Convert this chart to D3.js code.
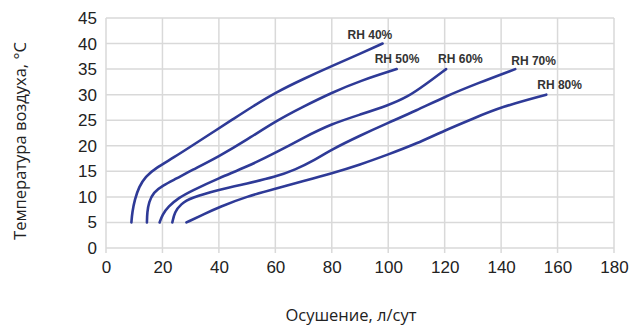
<!DOCTYPE html>
<html>
<head>
<meta charset="utf-8">
<script src="https://cdn.jsdelivr.net/npm/d3@7"></script>
<style>
  body { margin: 0; background: #fff; }
  svg { display: block; }
</style>
</head>
<body>
<div id="chart"></div>
<script>
// Осушение (л/сут) vs температура воздуха (°C) for each relative humidity
const seriesNames = ['RH 40%', 'RH 50%', 'RH 60%', 'RH 70%', 'RH 80%']

const rh40 = [[9, 5], [9.3, 7], [10.2, 9.5], [11.7, 12], [14, 14], [17.5, 15.6], [24, 17.7], [31, 20.2],
  [38, 22.7], [45, 25.2], [52, 27.7], [60, 30.4], [70, 33.1], [80, 35.6], [90, 38], [98, 40]]
const rh50 = [[14.5, 5], [14.6, 7], [15.2, 9], [16.8, 10.9], [20, 12.2], [25, 13.6], [30, 15.1], [40, 17.9],
  [50, 21.2], [60, 24.8], [70, 27.7], [80, 30.4], [90, 32.7], [103, 35]]
const rh60 = [[19, 5], [20, 6.5], [22, 8.1], [26, 9.9], [30, 11.1], [40, 13.7], [50, 15.9], [60, 18.6],
  [70, 21.6], [80, 24.3], [90, 26.1], [100, 27.9], [107, 29.6], [113, 31.9], [120.5, 35]]
const rh70 = [[23.5, 5], [24.3, 7], [26.5, 8.6], [30, 9.8], [40, 11.4], [50, 12.6], [60, 13.9], [67, 15.3],
  [74, 17.2], [80, 19.3], [90, 22], [100, 24.5], [110, 26.9], [120, 29.6], [132, 32.3], [145, 35]]
const rh80 = [[28.5, 5], [35, 6.7], [40, 8], [50, 10.1], [60, 11.6], [70, 13.1], [80, 14.6], [90, 16.3],
  [100, 18.3], [110, 20.4], [120, 23], [130, 25.3], [140, 27.6], [156, 30]]

const xTicks = [0, 20, 40, 60, 80, 100, 120, 140, 160, 180]
const yTicks = [0, 5, 10, 15, 20, 25, 30, 35, 40, 45]

const xTitle = 'Осушение, л/сут'
const yTitle = 'Температура воздуха, °С'

// label placement relative to each curve's last point, in px
const labelOffsets = [[-35, -5], [-22, -6], [-8, -6], [-4, -4], [-9, -6]]

const series = [rh40, rh50, rh60, rh70, rh80]

const width = 631, height = 326
const margin = { top: 18, right: 17, bottom: 78, left: 106 }

const svg = d3.select('#chart').append('svg')
  .attr('width', width)
  .attr('height', height)

const x = d3.scaleLinear().domain([0, 180]).range([margin.left, width - margin.right])
const y = d3.scaleLinear().domain([0, 45]).range([height - margin.bottom, margin.top])

const gridColor = '#d9d9d9'

// gridlines
svg.append('g')
  .selectAll('line')
  .data(yTicks)
  .join('line')
  .attr('x1', x(0)).attr('x2', x(180))
  .attr('y1', (d) => y(d)).attr('y2', (d) => y(d))
  .attr('stroke', gridColor)
  .attr('stroke-width', 1.5)

svg.append('g')
  .selectAll('line')
  .data(xTicks)
  .join('line')
  .attr('x1', (d) => x(d)).attr('x2', (d) => x(d))
  .attr('y1', y(45)).attr('y2', y(0) + 5)
  .attr('stroke', gridColor)
  .attr('stroke-width', 1.5)

// axes (labels only, grid drawn above)
const xAxis = svg.append('g')
  .attr('transform', `translate(0,${y(0)})`)
  .call(d3.axisBottom(x).tickValues(xTicks).tickSize(0).tickPadding(13))
xAxis.select('.domain').remove()

const yAxis = svg.append('g')
  .attr('transform', `translate(${x(0)},0)`)
  .call(d3.axisLeft(y).tickValues(yTicks).tickSize(0).tickPadding(9))
yAxis.select('.domain').remove()

svg.selectAll('.tick text')
  .attr('font-family', 'Liberation Sans, Arial, sans-serif')
  .attr('font-size', 17)
  .attr('fill', '#222')

// curves
const line = d3.line()
  .x((d) => x(d[0]))
  .y((d) => y(d[1]))
  .curve(d3.curveBasis)

svg.append('g')
  .selectAll('path')
  .data(series)
  .join('path')
  .attr('d', line)
  .attr('fill', 'none')
  .attr('stroke', '#2e3a97')
  .attr('stroke-width', 2.6)
  .attr('stroke-linecap', 'round')

// curve labels
svg.append('g')
  .selectAll('text')
  .data(series)
  .join('text')
  .attr('x', (d, i) => x(d[d.length - 1][0]) + labelOffsets[i][0])
  .attr('y', (d, i) => y(d[d.length - 1][1]) + labelOffsets[i][1])
  .attr('font-family', 'Liberation Sans, Arial, sans-serif')
  .attr('font-weight', 'bold')
  .attr('font-size', 12)
  .attr('fill', '#333')
  .text((d, i) => seriesNames[i])

// axis titles
svg.append('text')
  .attr('x', (x(0) + x(180)) / 2 - 9)
  .attr('y', 321)
  .attr('text-anchor', 'middle')
  .attr('font-family', 'Open Sans, sans-serif')
  .attr('font-size', 16.5)
  .attr('fill', '#222')
  .text(xTitle)

svg.append('text')
  .attr('transform', `translate(26,141) rotate(-90)`)
  .attr('text-anchor', 'middle')
  .attr('font-family', 'Open Sans, sans-serif')
  .attr('font-size', 16.5)
  .attr('fill', '#222')
  .text(yTitle)
</script>
</body>
</html>
